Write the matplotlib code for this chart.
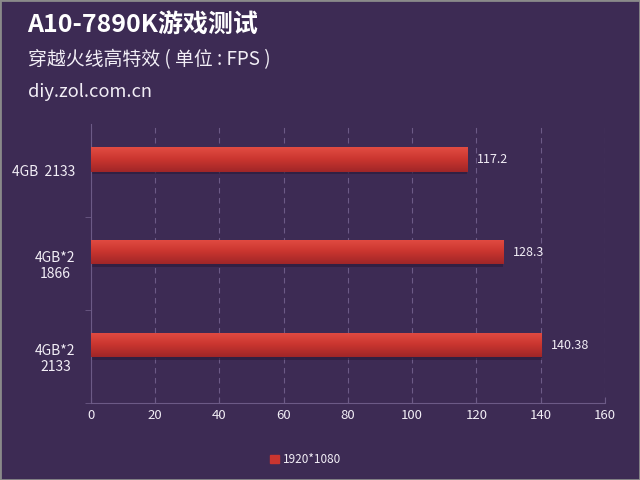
import numpy as np
import matplotlib.pyplot as plt
from matplotlib.patches import Rectangle
from matplotlib.colors import LinearSegmentedColormap

plt.rcParams['font.family'] = ['Noto Sans CJK SC', 'DejaVu Sans']

# ----- Data -----
categories = ['4GB  2133', '4GB*2\n1866', '4GB*2\n2133']
fps = [117.2, 128.3, 140.38]
value_labels = ['117.2', '128.3', '140.38']
series_name = '1920*1080'
x_ticks = [0, 20, 40, 60, 80, 100, 120, 140, 160]

bg = '#3d2b54'
grid_col = '#6c5a86'
text_col = '#f2eef6'
bar_col = '#c9352f'

fig = plt.figure(figsize=(6.4, 4.8), dpi=100, facecolor=bg)
ax = fig.add_axes([0.142, 0.1604, 0.803, 0.581])
ax.set_facecolor(bg)

y = np.arange(len(categories))
offset = -0.12  # bars sit a bit above the category centre
bars = ax.barh(y + offset, fps, height=0.26, color=bar_col, zorder=3)

# gradient + dark lower edge on each bar
cmap = LinearSegmentedColormap.from_list('bar', ['#e24c42', '#c9352f', '#a02628'])
grad = np.linspace(0, 1, 50).reshape(-1, 1)
for b in bars:
    x0, y0 = b.get_x(), b.get_y()
    w, h = b.get_width(), b.get_height()
    im = ax.imshow(grad, extent=[x0, x0 + w, y0 + h, y0], aspect='auto',
                   cmap=cmap, zorder=4)
    im.set_clip_path(b)
    ax.add_patch(Rectangle((x0, y0 + h), w, 0.03, color='#2a1a38', alpha=0.6,
                           zorder=2, lw=0))

for yi, v, lab in zip(y, fps, value_labels):
    ax.text(v + 3, yi + offset, lab, color=text_col, fontsize=9, va='center', ha='left')

ax.set_xlim(0, 160)
ax.set_ylim(2.5, -0.5)
ax.set_xticks(x_ticks)
ax.set_xticklabels([str(t) for t in x_ticks], color=text_col, fontsize=9.5)
ax.tick_params(axis='x', direction='in', length=4, color=grid_col, pad=4)

ax.set_yticks(y)
ax.set_yticklabels(categories, color=text_col, fontsize=10, multialignment='center')
ax.tick_params(axis='y', which='major', length=0, pad=11)
ax.set_yticks([0.5, 1.5, 2.5], minor=True)
ax.tick_params(axis='y', which='minor', length=4, color=grid_col, direction='out')

ax.grid(axis='x', color=grid_col, linestyle=(0, (5, 4)), linewidth=0.8, zorder=0)
for s in ['top', 'right']:
    ax.spines[s].set_visible(False)
for s in ['left', 'bottom']:
    ax.spines[s].set_color(grid_col)

# titles
fig.text(0.043, 0.948, 'A10-7890K游戏测试', color='white', fontsize=18,
         fontweight='bold', va='center', ha='left')
fig.text(0.043, 0.875, '穿越火线高特效 ( 单位 : FPS )', color=text_col, fontsize=13.6,
         va='center', ha='left')
fig.text(0.043, 0.808, 'diy.zol.com.cn', color=text_col, fontsize=13.2,
         va='center', ha='left')

# legend
ax.legend([Rectangle((0, 0), 1, 1, color=bar_col)], [series_name],
          loc='center', bbox_to_anchor=(0.478, 0.042), bbox_transform=fig.transFigure,
          frameon=False, fontsize=8.5, labelcolor=text_col,
          handlelength=0.7, handleheight=0.7, handletextpad=0.4)

fig.add_artist(Rectangle((0, 0), 1, 1, transform=fig.transFigure, fill=False,
                         edgecolor='#8a8a8a', lw=2))

fig.savefig('out.png', dpi=100, facecolor=bg)
